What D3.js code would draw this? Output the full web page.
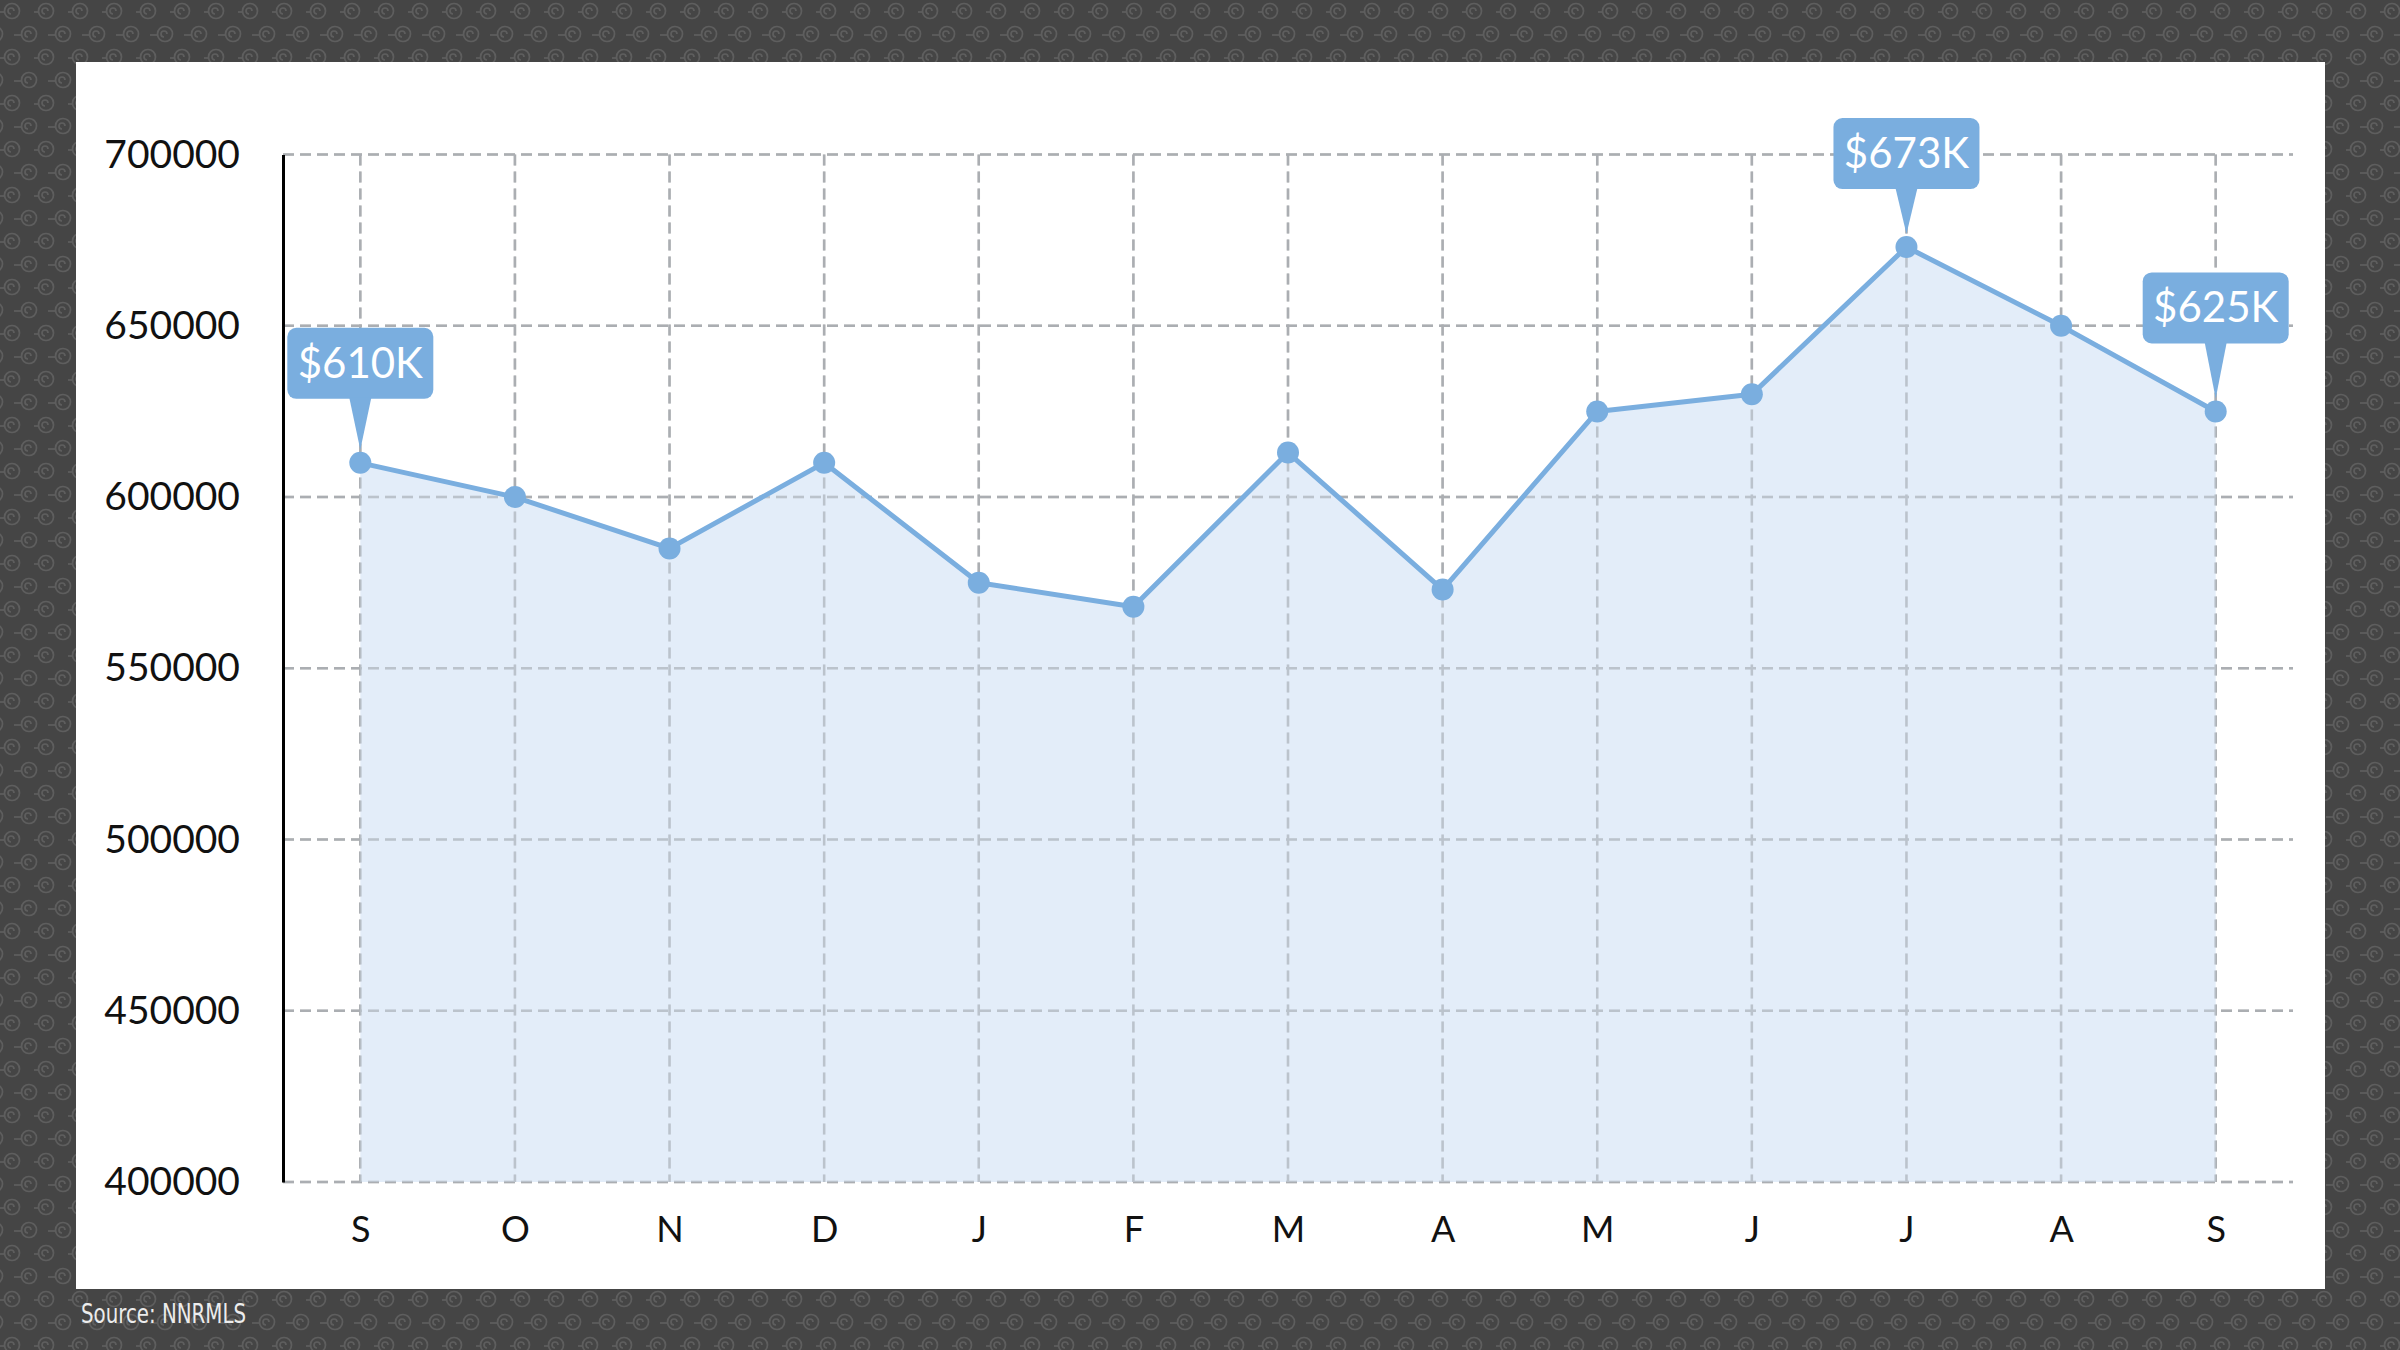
<!DOCTYPE html>
<html><head><meta charset="utf-8">
<script src="https://cdn.jsdelivr.net/npm/d3@7/dist/d3.min.js"></script>
<style>html,body{margin:0;padding:0;background:#464646;overflow:hidden;}</style>
</head><body>
<svg id="chart" width="2400" height="1350"></svg>
<script>
const months = ["S","O","N","D","J","F","M","A","M","J","J","A","S"];
const prices = [610000,600000,585000,610000,575000,568000,613000,573000,625000,630000,673000,650000,625000];
const yTicks = [400000,450000,500000,550000,600000,650000,700000];
const callouts = [0,10,12];
const calloutLabels = ["$610K","$673K","$625K"];
const sourceText = "Source: NNRMLS";

(function(){
const svg = d3.select("#chart");
const W = 2400, H = 1350;

// background pattern
const defs = svg.append("defs");
const pw = 34, ph = 46;
const pat = defs.append("pattern").attr("id","swirl").attr("patternUnits","userSpaceOnUse")
  .attr("width",pw).attr("height",ph);
pat.append("rect").attr("width",pw).attr("height",ph).attr("fill","#454545");
[[12,11],[29,34],[-5,34]].forEach(([cx,cy])=>{
  const g = pat.append("g").attr("fill","none").attr("stroke","#5e5e5e").attr("stroke-width",1.7);
  g.append("circle").attr("cx",cx).attr("cy",cy).attr("r",7.5);
  g.append("path").attr("d",`M${cx-1},${cy+3} a3,3 0 1,1 3,-3`);
  g.append("path").attr("d",`M${cx-7.5},${cy+1} L${cx-15},${cy+1}`);
});
svg.append("rect").attr("width",W).attr("height",H).attr("fill","url(#swirl)");

// white panel
svg.append("rect").attr("x",76).attr("y",62).attr("width",2249).attr("height",1227).attr("fill","#ffffff");

const pLeft = 283, pRight = 2293, pTop = 154.6, pBottom = 1182;
const x = d3.scalePoint().domain(d3.range(months.length)).range([pLeft,pRight]).padding(0.5);
const y = d3.scaleLinear().domain([400000,700000]).range([pBottom,pTop]);

const grid = svg.append("g").attr("stroke","#b0b0b0").attr("stroke-width",2.5).attr("stroke-dasharray","11,6").attr("fill","none");
yTicks.forEach(t=>{
  grid.append("line").attr("x1",pLeft).attr("x2",pRight).attr("y1",y(t)).attr("y2",y(t));
});
d3.range(months.length).forEach(i=>{
  grid.append("line").attr("x1",x(i)).attr("x2",x(i)).attr("y1",y(700000)).attr("y2",y(400000));
});

// area
const area = d3.area().x((d,i)=>x(i)).y0(y(400000)).y1(d=>y(d));
svg.append("path").datum(prices).attr("d",area).attr("fill","#dce9f7").attr("fill-opacity",0.8);

// grid visible through fill
const grid2 = svg.append("g").attr("stroke","#a8aeb5").attr("stroke-width",2.5).attr("stroke-dasharray","11,6").attr("opacity",0.55);
yTicks.forEach(t=>{
  grid2.append("line").attr("x1",pLeft).attr("x2",pRight).attr("y1",y(t)).attr("y2",y(t));
});
d3.range(months.length).forEach(i=>{
  grid2.append("line").attr("x1",x(i)).attr("x2",x(i)).attr("y1",y(700000)).attr("y2",y(400000));
});

// y axis
const yAxis = d3.axisLeft(y).tickValues(yTicks).tickSize(0).tickPadding(43).tickFormat(d3.format("d"));
const ya = svg.append("g").attr("transform",`translate(${pLeft},0)`).call(yAxis);
ya.select(".domain").attr("stroke","#000").attr("stroke-width",3);
ya.selectAll("text").attr("font-family","Lato, sans-serif").attr("font-size",39).attr("fill","#111");

// x axis labels
const xAxis = d3.axisBottom(x).tickSize(0).tickPadding(34).tickFormat(i=>months[i]);
const xa = svg.append("g").attr("transform",`translate(0,${pBottom})`).call(xAxis);
xa.select(".domain").remove();
xa.selectAll("text").attr("font-family","Lato, sans-serif").attr("font-size",36).attr("fill","#111");

// line
const line = d3.line().x((d,i)=>x(i)).y(d=>y(d));
svg.append("path").datum(prices).attr("d",line).attr("fill","none").attr("stroke","#7aaedf").attr("stroke-width",5).attr("stroke-linejoin","round");

svg.append("g").selectAll("circle").data(prices).join("circle")
  .attr("cx",(d,i)=>x(i)).attr("cy",d=>y(d)).attr("r",11).attr("fill","#7aaedf");

// callouts
const bw = 146, bh = 71;
const gaps = [64,58,68];
callouts.forEach((idx,k)=>{
  const px = x(idx), py = y(prices[idx]);
  const g = svg.append("g");
  const by = py - gaps[k] - bh;
  g.append("rect").attr("x",px-bw/2).attr("y",by).attr("width",bw).attr("height",bh).attr("rx",9).attr("fill","#7aaedf");
  g.append("path").attr("d",`M${px-11},${by+bh-1} L${px+11},${by+bh-1} L${px},${py-13} Z`).attr("fill","#7aaedf");
  g.append("text").attr("x",px).attr("y",by+50).attr("text-anchor","middle")
    .attr("font-family","Lato, sans-serif").attr("font-size",42).attr("fill","#ffffff").text(calloutLabels[k]);
});

// source
svg.append("text").attr("x",81).attr("y",1323)
  .attr("font-family","'Liberation Sans Narrow','DejaVu Sans Condensed','Roboto Condensed',sans-serif")
  .attr("font-stretch","condensed")
  .attr("font-size",27).attr("fill","#ececec")
  .attr("textLength",165).attr("lengthAdjust","spacingAndGlyphs").text(sourceText);
})();
</script>
</body></html>
